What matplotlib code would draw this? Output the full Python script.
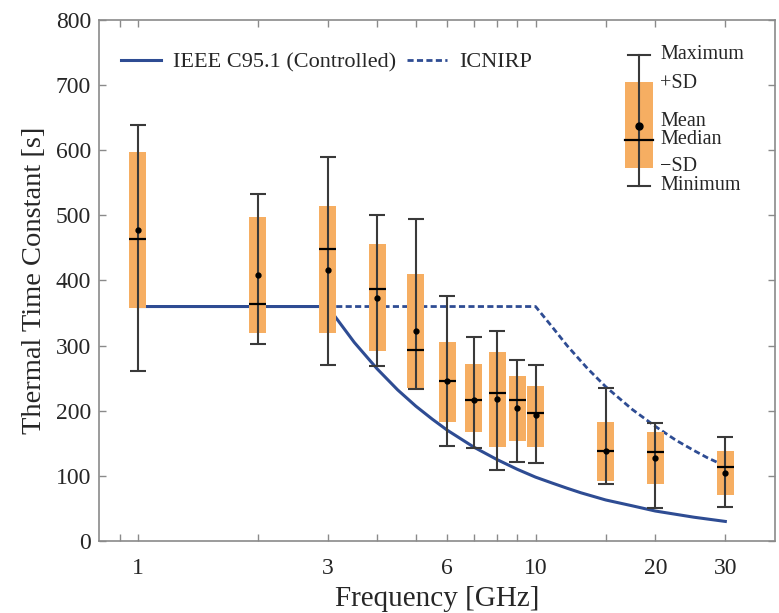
import matplotlib
matplotlib.use("Agg")
import matplotlib.pyplot as plt
from matplotlib.patches import Rectangle
from matplotlib.lines import Line2D
import numpy as np

plt.rcParams['font.family'] = ['Liberation Serif', 'DejaVu Serif']

# ---- data ----
freq = [1, 2, 3, 4, 5, 6, 7, 8, 9, 10, 15, 20, 30]              # GHz
t_max = [638, 533, 590, 501, 495, 376, 313, 322, 278, 270, 235, 181, 160]
sd_hi = [597, 498, 514, 456, 410, 305, 271, 290, 254, 238, 183, 168, 138]
t_mean = [477, 408, 416, 373, 322, 245, 217, 218, 204, 193, 138, 128, 104]
t_median = [463, 364, 448, 387, 293, 246, 216, 227, 216, 197, 138, 136, 114]
sd_lo = [357, 320, 320, 291, 235, 183, 168, 145, 154, 145, 92, 88, 70]
t_min = [261, 303, 270, 269, 233, 146, 143, 109, 122, 120, 87, 50, 52]

ieee_f = [1, 3, 3.5, 4, 4.5, 5, 5.5, 6, 7, 8, 9, 10, 11, 12, 13, 15, 17.5,
          20, 25, 30]
ieee_t = [360, 360, 305, 264, 232, 207, 187, 170, 144, 125, 110, 98, 89, 81,
          74, 63, 54, 46, 36.5, 30]
icnirp_f = [1, 3, 10, 11, 12, 13.5, 15, 17.5, 20, 22.5, 25, 27, 30]
icnirp_t = [360, 360, 360, 329, 300, 265, 237, 202, 176, 155, 139, 128, 115]

xtick_major = [1, 3, 6, 10, 20, 30]
xtick_minor = [0.9, 2, 4, 5, 7, 8, 9, 15]
yticks = [0, 100, 200, 300, 400, 500, 600, 700, 800]

# ---- style ----
box_color = '#F6AE62'
line_color = '#2E4C93'
whisk_color = '#3a3a3a'
spine_color = '#8a8a8a'
text_color = '#262626'

fig = plt.figure(figsize=(7.79, 6.13), dpi=100)
ax = fig.add_axes([0.1275, 0.1175, 0.8674, 0.8499])
ax.set_xscale('log')
ax.set_xlim(0.8, 40)
ax.set_ylim(0, 800)

# guideline curves (beneath boxes)
ax.plot(icnirp_f, icnirp_t, color=line_color, lw=2.0, ls=(0, (2.2, 1.2)),
        zorder=1.5)
ax.plot(ieee_f, ieee_t, color=line_color, lw=2.2, ls='-', zorder=1.6)

f = np.array(freq, dtype=float)
hw = 0.0214  # half box width in decades
lo_f = f * 10 ** (-hw)
hi_f = f * 10 ** (hw)
ax.bar(lo_f, np.array(sd_hi) - np.array(sd_lo), bottom=sd_lo,
       width=hi_f - lo_f, align='edge', color=box_color, edgecolor='none',
       zorder=2)
ax.errorbar(f, t_median,
            yerr=[np.array(t_median) - np.array(t_min),
                  np.array(t_max) - np.array(t_median)],
            fmt='none', ecolor=whisk_color, elinewidth=1.5, capsize=6,
            capthick=1.5, zorder=3)
ax.hlines(t_median, lo_f, hi_f, colors='black', lw=1.6, zorder=4)
ax.plot(f, t_mean, 'o', color='black', ms=3.5, zorder=5)

# axes styling
ax.set_xticks(xtick_major)
ax.set_xticklabels([str(v) for v in xtick_major])
ax.set_xticks(xtick_minor, minor=True)
ax.xaxis.set_minor_formatter(matplotlib.ticker.NullFormatter())
ax.set_yticks(yticks)
ax.tick_params(axis='both', which='both', direction='in', top=True, right=True,
               color=spine_color, labelcolor=text_color, labelsize=17, pad=6)
ax.tick_params(axis='x', which='both', pad=12)
ax.tick_params(axis='both', which='major', length=5, width=1)
ax.tick_params(axis='x', which='minor', length=5, width=1)
for s in ax.spines.values():
    s.set_color(spine_color)
    s.set_linewidth(1.2)

ax.set_xlabel('Frequency [GHz]', fontsize=21, color=text_color, labelpad=5)
ax.set_ylabel('Thermal Time Constant [s]', fontsize=20.5, color=text_color,
              labelpad=6)

# legend for guidelines
h_ieee = Line2D([], [], color=line_color, lw=2.2, ls='-')
h_icn = Line2D([], [], color=line_color, lw=2.0, ls=(0, (2.2, 1.2)))
leg = ax.legend([h_ieee, h_icn], ['IEEE C95.1 (Controlled)', 'ICNIRP'],
                ncol=2, frameon=False, loc='center left',
                bbox_to_anchor=(0.032, 0.919), borderpad=0, borderaxespad=0,
                handlelength=1.8, handletextpad=0.55, columnspacing=0.5,
                fontsize=16)
for t in leg.get_texts():
    t.set_color(text_color)

# explanatory key (axes-fraction coordinates)
tr = ax.transAxes
kx = 0.7986
ax.add_patch(Rectangle((kx - 0.0207, 0.7165), 0.0414, 0.8816 - 0.7165,
                       transform=tr, color=box_color, ec='none', zorder=6))
ax.plot([kx, kx], [0.682, 0.9328], transform=tr, color=whisk_color, lw=1.5,
        zorder=7)
for yy in (0.682, 0.9328):
    ax.plot([kx - 0.0163, kx + 0.0163], [yy, yy], transform=tr,
            color=whisk_color, lw=1.5, zorder=7)
ax.plot([kx - 0.0207, kx + 0.0207], [0.7697, 0.7697], transform=tr,
        color='black', lw=1.6, zorder=8)
ax.plot([kx], [0.7971], 'o', transform=tr, color='black', ms=5, zorder=9)
key_labels = [('Maximum', 0.933), ('+SD', 0.879), ('Mean', 0.805),
              ('Median', 0.770), ('\u2212SD', 0.718), ('Minimum', 0.682)]
for txt, yy in key_labels:
    ax.text(0.8304, yy, txt, transform=tr, fontsize=14.5, va='center',
            ha='left', color=text_color, zorder=10)

fig.savefig('out.png', dpi=100)
